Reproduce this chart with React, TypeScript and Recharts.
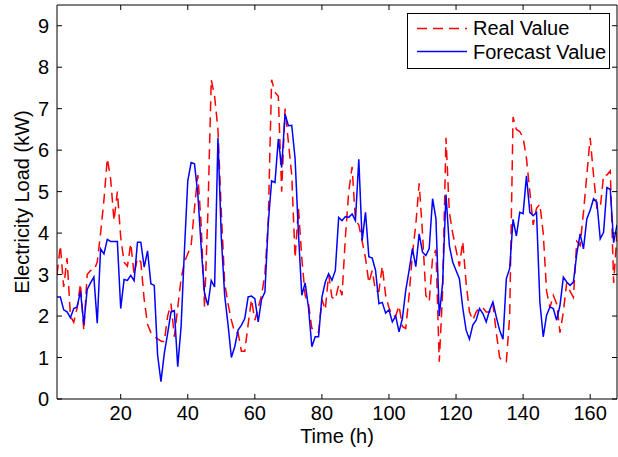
import React from 'react';
import { LineChart, Line, XAxis, YAxis, Legend } from 'recharts';

const realValue: number[] = [
  3.0, 3.7, 2.7, 3.4, 2.0, 1.85, 2.2, 2.78, 1.65, 3.0,
  3.1, 3.1, 3.3, 4.0, 4.8, 5.8, 5.3, 4.3, 5.0, 3.9,
  3.3, 3.2, 3.75, 3.0, 3.4, 3.3, 2.4, 1.8, 1.6, 1.5,
  1.45, 1.4, 1.38, 2.0, 2.3, 1.5, 2.2, 2.9, 3.3, 3.5,
  3.7, 4.6, 5.4, 4.2, 2.2, 4.5, 7.7, 7.3, 6.5, 4.5,
  2.8, 2.3, 1.9, 1.6, 1.6, 1.15, 1.15, 1.8, 2.4, 1.9,
  2.2, 2.5, 3.0, 4.3, 7.7, 7.4, 7.3, 5.0, 7.0, 6.2,
  5.4, 3.4, 4.6, 3.4, 2.5, 2.3, 1.7, 1.7, 1.6, 2.4,
  2.15, 3.0, 2.45, 2.4, 2.75, 2.5, 3.9, 5.0, 5.6, 4.3,
  4.2, 3.8, 3.4, 2.8, 3.1, 2.6, 2.6, 3.2, 2.5, 2.2,
  2.0, 2.0, 2.25, 1.75, 1.7, 2.5, 3.5, 4.2, 5.2, 4.0,
  2.5, 2.35, 3.4, 3.6, 0.9, 2.6, 6.3, 4.5, 4.0, 3.6,
  3.2, 3.8, 2.8, 2.1, 1.9, 2.1, 2.2, 2.2, 2.1, 2.1,
  2.3, 1.6, 1.0, 0.9, 0.9, 2.0, 6.8, 6.5, 6.45, 6.3,
  5.8, 5.0, 4.2, 4.6, 4.7, 4.0, 2.6, 2.2, 2.5, 2.3,
  1.6, 2.1, 2.8, 2.6, 2.45, 3.8, 3.7, 4.5, 5.4, 6.3,
  5.4, 4.6, 4.6, 5.4, 5.4, 5.5, 2.8, 4.0,
];

const forecastValue: number[] = [
  2.46, 2.46, 2.15, 2.1, 1.96, 2.18, 2.22, 2.6, 1.8, 2.64,
  2.8, 2.94, 1.83, 3.62, 3.5, 3.85, 3.8, 3.8, 3.8, 2.18,
  2.88, 2.86, 2.98, 2.85, 3.78, 3.78, 3.18, 3.57, 2.78, 2.74,
  1.06, 0.42, 1.1, 1.58, 2.1, 2.13, 0.78, 1.74, 3.58, 5.26,
  5.7, 5.67, 4.94, 3.66, 2.54, 2.26, 2.86, 2.7, 6.3, 3.9,
  2.5, 1.8, 1.0, 1.26, 1.66, 1.78, 1.94, 2.46, 2.48, 2.42,
  1.86, 2.4, 2.58, 4.23, 5.26, 5.22, 6.27, 5.58, 6.87, 6.59,
  6.6, 5.8, 4.0, 2.5, 2.8, 2.2, 1.26, 1.5, 1.5, 2.45,
  2.82, 3.02, 2.86, 3.1, 4.38, 4.3, 4.4, 4.38, 4.46, 4.3,
  5.78, 3.82, 4.5, 3.43, 3.4, 3.1, 2.3, 2.33, 2.07, 2.15,
  1.86, 2.0, 1.62, 1.94, 2.62, 3.1, 3.63, 3.19, 3.98, 3.54,
  3.46, 3.63, 4.83, 4.35, 2.0, 2.8, 4.93, 3.7, 3.3, 3.1,
  2.9, 2.2, 1.66, 1.44, 1.78, 1.9, 2.18, 2.06, 1.86, 2.14,
  2.34, 1.98, 1.66, 1.44, 2.9, 3.15, 4.33, 3.93, 4.5, 4.47,
  5.38, 4.5, 4.42, 4.5, 2.34, 1.5, 2.02, 2.22, 2.18, 1.9,
  2.26, 2.94, 2.82, 2.74, 2.82, 3.5, 3.98, 3.62, 4.34, 4.55,
  4.83, 4.75, 3.86, 4.02, 5.1, 5.05, 3.77, 4.2,
];

const xTicks: number[] = [20, 40, 60, 80, 100, 120, 140, 160];
const yTicks: number[] = [0, 1, 2, 3, 4, 5, 6, 7, 8, 9];

const data = realValue.map((r, i) => ({ hour: i + 1, real: r, forecast: forecastValue[i] }));

const FONT = '"Liberation Sans", Arial, Helvetica, sans-serif';
const FS = 20;
const DASH = '10 6';

const LeftTick = (props: any) => {
  const { x, y, payload } = props;
  return (
    <g>
      <line x1={x} x2={x + 5} y1={y} y2={y} stroke="#000" strokeWidth={1} />
      <text x={x - 8} y={y} dy="0.36em" textAnchor="end" fontSize={FS} fontFamily={FONT} fill="#000">
        {payload.value}
      </text>
    </g>
  );
};

const RightTick = (props: any) => {
  const { x, y } = props;
  return <line x1={x} x2={x - 5} y1={y} y2={y} stroke="#000" strokeWidth={1} />;
};

const BottomTick = (props: any) => {
  const { x, y, payload } = props;
  return (
    <g>
      <line x1={x} x2={x} y1={y} y2={y - 5} stroke="#000" strokeWidth={1} />
      <text x={x} y={y + 21} textAnchor="middle" fontSize={FS} fontFamily={FONT} fill="#000">
        {payload.value}
      </text>
    </g>
  );
};

const TopTick = (props: any) => {
  const { x, y } = props;
  return <line x1={x} x2={x} y1={y} y2={y + 5} stroke="#000" strokeWidth={1} />;
};

const YLabel = (props: any) => {
  const vb = props.viewBox;
  const cx = vb.x + 29;
  const cy = vb.y + vb.height / 2;
  return (
    <text x={cx} y={cy} transform={`rotate(-90 ${cx} ${cy})`} textAnchor="middle" fontSize={FS} fontFamily={FONT} fill="#000">
      Electricity Load (kW)
    </text>
  );
};

const XLabel = (props: any) => {
  const vb = props.viewBox;
  return (
    <text x={vb.x + vb.width / 2} y={vb.y + 44} textAnchor="middle" fontSize={FS} fontFamily={FONT} fill="#000">
      Time (h)
    </text>
  );
};

const LegendBox = () => (
  <svg width={203} height={56} style={{ display: 'block' }}>
    <rect x={0.5} y={0.5} width={202} height={55} fill="#fff" stroke="#000" strokeWidth={1} />
    <line x1={10} x2={60} y1={15.5} y2={15.5} stroke="#ff0000" strokeWidth={1.5} strokeDasharray={DASH} />
    <text x={66} y={22} fontSize={FS} fontFamily={FONT} fill="#000">Real Value</text>
    <line x1={10} x2={60} y1={38.5} y2={38.5} stroke="#0000ff" strokeWidth={1.5} />
    <text x={66} y={46} fontSize={FS} fontFamily={FONT} fill="#000">Forecast Value</text>
  </svg>
);

export default function App() {
  return (
    <div style={{ position: 'absolute', left: 0, top: 0, width: 618, height: 457, background: '#fff' }}>
      <LineChart width={618} height={457} data={data} margin={{ top: 4, right: 0, bottom: 0, left: 0 }}>
        <XAxis
          xAxisId="bottom"
          dataKey="hour"
          type="number"
          domain={[1, 168]}
          ticks={xTicks}
          allowDataOverflow
          height={58}
          tickSize={0}
          tickMargin={0}
          tickLine={false}
          axisLine={{ stroke: '#000', strokeWidth: 1 }}
          tick={<BottomTick />}
          label={<XLabel />}
          interval={0}
        />
        <XAxis
          xAxisId="top"
          orientation="top"
          dataKey="hour"
          type="number"
          domain={[1, 168]}
          ticks={xTicks}
          allowDataOverflow
          height={1}
          tickSize={0}
          tickMargin={0}
          tickLine={false}
          axisLine={{ stroke: '#000', strokeWidth: 1 }}
          tick={<TopTick />}
          interval={0}
        />
        <YAxis
          yAxisId="left"
          type="number"
          domain={[0, 9.5]}
          ticks={yTicks}
          allowDataOverflow
          width={57}
          tickSize={0}
          tickMargin={0}
          tickLine={false}
          axisLine={{ stroke: '#000', strokeWidth: 1 }}
          tick={<LeftTick />}
          label={<YLabel />}
          interval={0}
        />
        <YAxis
          yAxisId="right"
          orientation="right"
          type="number"
          domain={[0, 9.5]}
          ticks={yTicks}
          allowDataOverflow
          width={1}
          tickSize={0}
          tickMargin={0}
          tickLine={false}
          axisLine={{ stroke: '#000', strokeWidth: 1 }}
          tick={<RightTick />}
          interval={0}
        />
        <Legend
          layout="horizontal"
          verticalAlign="middle"
          align="center"
          content={<LegendBox />}
          wrapperStyle={{ position: 'absolute', left: 407, top: 13, width: 203, height: 56 }}
        />
        <Line
          xAxisId="bottom"
          yAxisId="left"
          dataKey="real"
          stroke="#ff0000"
          strokeWidth={1.5}
          strokeDasharray={DASH}
          dot={false}
          activeDot={false}
          isAnimationActive={false}
        />
        <Line
          xAxisId="bottom"
          yAxisId="left"
          dataKey="forecast"
          stroke="#0000ff"
          strokeWidth={1.5}
          dot={false}
          activeDot={false}
          isAnimationActive={false}
        />
      </LineChart>
    </div>
  );
}
